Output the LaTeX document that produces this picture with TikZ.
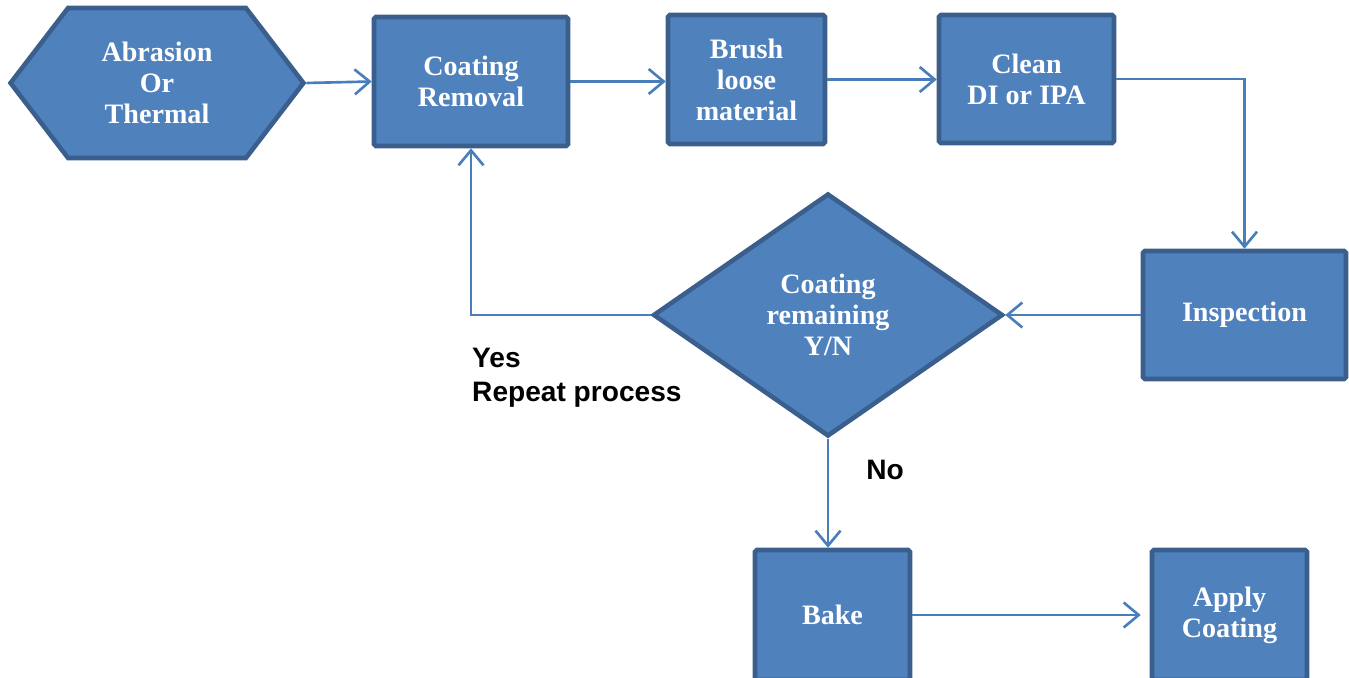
\documentclass[tikz,border=0pt]{standalone}
\usepackage{fontspec}
\setmainfont{Liberation Serif}
\newfontfamily\labelfont{Liberation Sans}
\usetikzlibrary{shapes.geometric,shapes.symbols,arrows.meta}

\definecolor{boxfill}{HTML}{4F81BD}
\definecolor{boxedge}{HTML}{3A5F8C}
\definecolor{flowline}{HTML}{4A7EBB}

\tikzset{
	stepbox/.style={draw=boxedge,fill=boxfill,line width=2.6pt,rounded corners=1pt,
		text=white,align=center,font=\fontsize{16}{17.6}\selectfont\bfseries},
	flow/.style={draw=flowline,line width=1.5pt,-{Straight Barb[length=0.3cm,width=0.5cm]}},
	answer/.style={align=left,font=\labelfont\fontsize{16}{19.3}\selectfont\bfseries}
}

\begin{document}
\begin{tikzpicture}[x=0.02cm,y=-0.02cm]
			\useasboundingbox (0,0) rectangle (1349,678);

			% process steps
			\node[stepbox,signal,signal to=east and west,signal pointer angle=105,
				minimum width=5.86cm,minimum height=3.0cm,rounded corners=0pt] (abr) at (157,83) {Abrasion\\Or\\Thermal};
			\node[stepbox,minimum width=3.88cm,minimum height=2.58cm] (rem) at (471,81.5) {Coating\\Removal};
			\node[stepbox,minimum width=3.14cm,minimum height=2.58cm] (brush) at (746.5,79.5) {Brush\\loose\\material};
			\node[stepbox,minimum width=3.5cm,minimum height=2.56cm] (clean) at (1026.5,79) {Clean\\DI or IPA};
			\node[stepbox,minimum width=4.06cm,minimum height=2.56cm] (insp) at (1244.5,315) {Inspection};
			\node[stepbox,diamond,minimum width=7.0cm,minimum height=4.86cm,rounded corners=0pt] (dec) at (828,315) {Coating\\remaining\\Y/N};
			\node[stepbox,minimum width=3.1cm,minimum height=2.6cm] (bake) at (832.5,615) {Bake};
			\node[stepbox,minimum width=3.1cm,minimum height=2.6cm] (apply) at (1229.5,615) {Apply\\Coating};

			% connectors
			\draw[flow] (abr.east) -- (rem.west);
			\draw[flow] (rem.east) -- (rem.east -| brush.west);
			\draw[flow] (brush.east) -- (brush.east -| clean.west);
			\draw[flow] (clean.east) -| (insp.north);
			\draw[flow] (insp.west) -- (dec.east);
			\draw[flow] (dec.west) -| (rem.south);
			\draw[flow] (dec.south) -- (dec.south |- bake.north);
			\draw[flow,shorten >=0.18cm] (bake.east) -- (bake.east -| apply.west);

			% answers
			\node[answer,anchor=west] (yes) at (466,378) {Yes\\Repeat process};
			\node[answer] (no) at (885,470) {No};
		\end{tikzpicture}
\end{document}
